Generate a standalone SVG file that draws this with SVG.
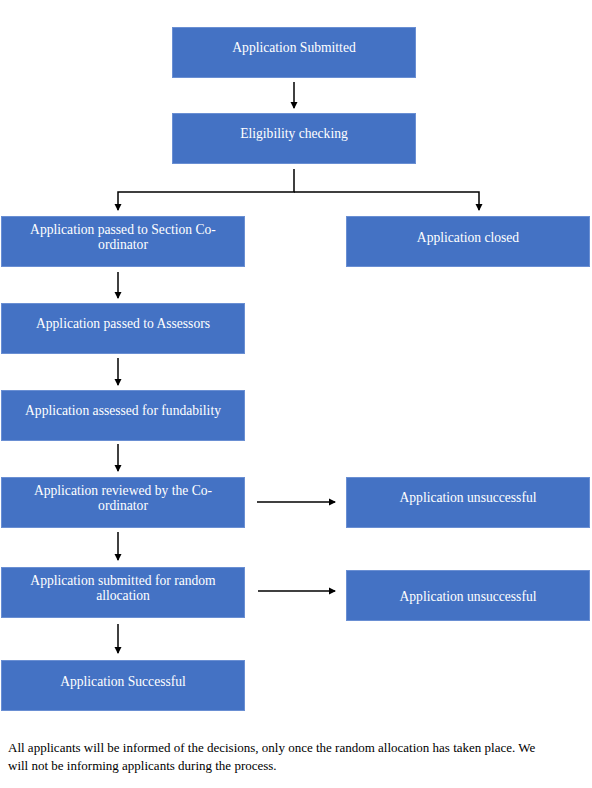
<svg xmlns="http://www.w3.org/2000/svg" width="592" height="788" viewBox="0 0 592 788">
<style>
.box{fill:#4472C4;stroke:#6A8FD3;stroke-width:1}
.t{font-family:"Liberation Serif","DejaVu Serif",serif;font-size:13.6px;fill:#ffffff;text-anchor:middle}
.n{font-family:"Liberation Serif","DejaVu Serif",serif;font-size:13px;fill:#000000}
.c{fill:none;stroke:#000;stroke-width:1.5}
</style>
<defs>
<marker id="ah" markerWidth="8" markerHeight="8" refX="6" refY="4" orient="auto" markerUnits="userSpaceOnUse">
<path d="M0,0.5 L7,4 L0,7.5 z" fill="#000"/>
</marker>
</defs>
<rect width="592" height="788" fill="#fff"/>
<g id="n1"><rect class="box" x="172.5" y="27.5" width="243" height="50"/><text class="t" x="294" y="52">Application Submitted</text></g>
<g id="n2"><rect class="box" x="172.5" y="113.5" width="243" height="50"/><text class="t" x="294" y="138">Eligibility checking</text></g>
<g id="n3"><rect class="box" x="1.5" y="216.5" width="243" height="50"/><text class="t" x="123" y="234">Application passed to Section Co-</text><text class="t" x="123" y="249">ordinator</text></g>
<g id="n4"><rect class="box" x="346.5" y="216.5" width="243" height="50"/><text class="t" x="468" y="241.5">Application closed</text></g>
<g id="n5"><rect class="box" x="1.5" y="303.5" width="243" height="50"/><text class="t" x="123" y="328">Application passed to Assessors</text></g>
<g id="n6"><rect class="box" x="1.5" y="390.5" width="243" height="50"/><text class="t" x="123" y="415">Application assessed for fundability</text></g>
<g id="n7"><rect class="box" x="1.5" y="477.5" width="243" height="50"/><text class="t" x="123" y="495">Application reviewed by the Co-</text><text class="t" x="123" y="510">ordinator</text></g>
<g id="n8"><rect class="box" x="346.5" y="477.5" width="243" height="50"/><text class="t" x="468" y="502">Application unsuccessful</text></g>
<g id="n9"><rect class="box" x="1.5" y="567.5" width="243" height="50"/><text class="t" x="123" y="585">Application submitted for random</text><text class="t" x="123" y="600">allocation</text></g>
<g id="n10"><rect class="box" x="346.5" y="570.5" width="243" height="50"/><text class="t" x="468" y="601">Application unsuccessful</text></g>
<g id="n11"><rect class="box" x="1.5" y="660.5" width="243" height="50"/><text class="t" x="123" y="685.5">Application Successful</text></g>
<g id="connectors">
<line class="c" x1="294" y1="82" x2="294" y2="108" marker-end="url(#ah)"/>
<path class="c" d="M294,169 V192 H118 V210" marker-end="url(#ah)"/>
<path class="c" d="M294,192 H479 V210" marker-end="url(#ah)"/>
<line class="c" x1="118" y1="272" x2="118" y2="298" marker-end="url(#ah)"/>
<line class="c" x1="118" y1="358" x2="118" y2="385" marker-end="url(#ah)"/>
<line class="c" x1="118" y1="444" x2="118" y2="471" marker-end="url(#ah)"/>
<line class="c" x1="118" y1="532" x2="118" y2="560" marker-end="url(#ah)"/>
<line class="c" x1="118" y1="624" x2="118" y2="653" marker-end="url(#ah)"/>
<line class="c" x1="257" y1="502" x2="335" y2="502" marker-end="url(#ah)"/>
<line class="c" x1="258" y1="591" x2="335" y2="591" marker-end="url(#ah)"/>
</g>
<text class="n" x="8" y="752">All applicants will be informed of the decisions, only once the random allocation has taken place. We</text>
<text class="n" x="8" y="770">will not be informing applicants during the process.</text>
</svg>
